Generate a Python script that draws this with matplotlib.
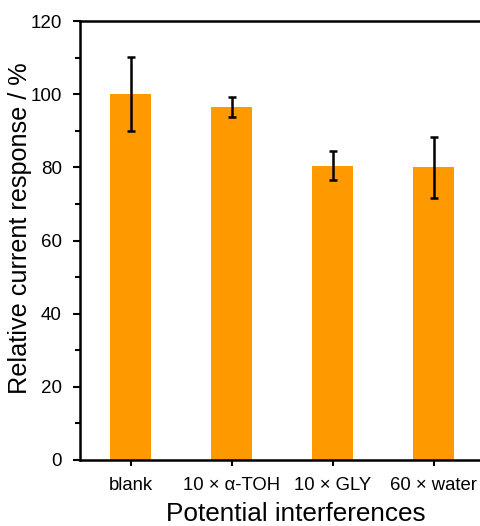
import numpy as np
import matplotlib
matplotlib.use('agg')
import matplotlib.pyplot as plt
from matplotlib.ticker import MultipleLocator

plt.rcParams['font.family'] = ['Liberation Sans', 'DejaVu Sans']

# interference study: relative current response with std deviation
labels = ['blank', '10 × α-TOH', '10 × GLY', '60 × water']
response = [100.0, 96.5, 80.5, 80.0]
errors = [10.1, 2.7, 4.0, 8.3]

fig = plt.figure(figsize=(4.8, 5.26), dpi=100)
ax = fig.add_axes([0.1667, 0.1255, 0.842, 0.8345])

x = np.arange(len(labels))
ax.bar(x, response, width=0.4, color='#ff9900', edgecolor='none', zorder=1)
ax.errorbar(x, response, yerr=errors, fmt='none', ecolor='black',
            elinewidth=1.8, capsize=3, capthick=1.8, zorder=2)

ax.set_xlim(-0.5, 3.5)
ax.set_ylim(0, 120)
ax.set_xticks(x)
ax.set_xticklabels(labels, fontsize=13.3)
ax.yaxis.set_major_locator(MultipleLocator(20))
ax.yaxis.set_minor_locator(MultipleLocator(10))
ax.tick_params(axis='y', which='major', labelsize=13.5, length=5, width=1.5,
               direction='out', pad=8)
ax.tick_params(axis='y', which='minor', length=3.5, width=1.5, direction='out')
ax.tick_params(axis='x', length=4, width=1.5, direction='out', pad=8)

for side in ['left', 'bottom', 'top']:
    ax.spines[side].set_linewidth(1.8)
ax.spines['right'].set_visible(False)

ax.set_xlabel('Potential interferences', fontsize=18.8)
ax.set_ylabel('Relative current response / %', fontsize=18.2)
ax.xaxis.set_label_coords(0.535, -0.095)
ax.yaxis.set_label_coords(-0.118, 0.528)

fig.savefig('out.png', dpi=100)
